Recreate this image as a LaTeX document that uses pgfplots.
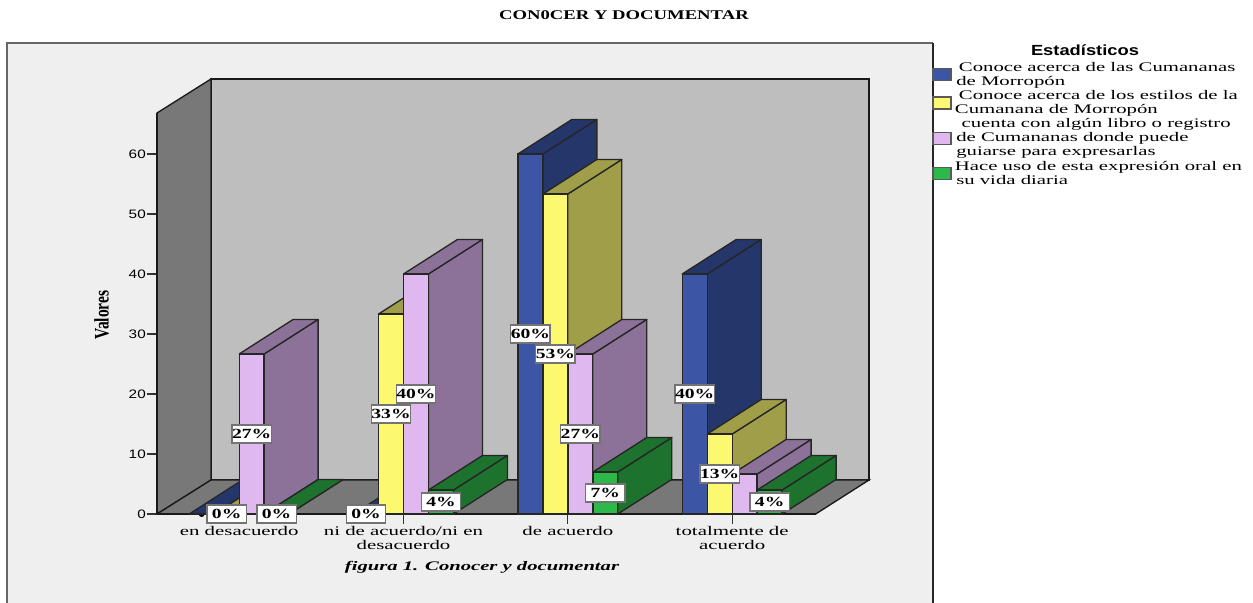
\documentclass[border=0pt]{standalone}
\usepackage{fontspec}
\usepackage{pgfplots}
\usepackage{pgfplotstable}
\pgfplotsset{compat=1.18}

\newfontfamily\serifwide[FakeStretch=1.4]{Liberation Serif}
\newfontfamily\serifwider[FakeStretch=1.58]{Liberation Serif}
\newfontfamily\sanswide[FakeStretch=1.25]{Liberation Sans}
\newfontfamily\yfont[FakeStretch=0.75]{Liberation Serif}

% x: category position, v: value in percent
\pgfplotstableread{
x v
-0.228 0
0.772 0
1.772 60
2.772 40
}\serieblue
\pgfplotstableread{
x v
-0.076 0
0.924 33.33
1.924 53.33
2.924 13.33
}\serieyellow
\pgfplotstableread{
x v
0.076 26.67
1.076 40
2.076 26.67
3.076 6.67
}\seriepink
\pgfplotstableread{
x v
0.228 0
1.228 4
2.228 7
3.228 4
}\seriegreen
% only the bars that carry a label in the picture
\pgfplotstableread{
x v
-0.076 0
0.228 0
0.076 26.67
0.772 0
0.924 33.33
1.076 40
1.228 4
1.772 60
1.924 53.33
2.076 26.67
2.228 7
2.772 40
2.924 13.33
3.228 4
}\labelled

\definecolor{cblue}{HTML}{3C55A5}\definecolor{cblueS}{HTML}{25366B}
\definecolor{cyel}{HTML}{FCF86F}\definecolor{cyelS}{HTML}{A09E48}
\definecolor{cpink}{HTML}{E0B8F0}\definecolor{cpinkS}{HTML}{8C7298}
\definecolor{cgreen}{HTML}{2DB84A}\definecolor{cgreenS}{HTML}{1D722D}
\definecolor{panel}{HTML}{EFEFEF}
\definecolor{backwall}{HTML}{BEBEBE}
\definecolor{sidewall}{HTML}{787878}

\pgfplotsset{
  bar3d/.style n args={2}{
    forget plot, only marks, scatter,
    visualization depends on={rawy \as \barv},
    scatter/@pre marker code/.code={},
    scatter/@post marker code/.code={
      \pgfmathsetlengthmacro\barh{\barv*4.5pt}
      \draw[black!85,line width=1pt,line join=round,fill=#2]
        (9.35pt,0pt)--(49.85pt,25.9pt)--(49.85pt,25.9pt-\barh)--(9.35pt,-\barh)--cycle;
      \draw[black!85,line width=1pt,line join=round,fill=#2]
        (-9.35pt,0pt)--(31.15pt,25.9pt)--(49.85pt,25.9pt)--(9.35pt,0pt)--cycle;
      \draw[black!85,line width=1pt,fill=#1]
        (-9.35pt,-\barh) rectangle (9.35pt,0pt);
    },
  },
  swatch/.style={legend image code/.code={
    \draw[black!65,line width=.9pt,fill=#1] (0pt,-4.5pt) rectangle (13.5pt,4.5pt);}},
  every axis title shift=0pt,
}

\begin{document}
\begin{tikzpicture}
\begin{scope}[x=.75pt,y=-.75pt,xshift=-117.75pt,yshift=385.5pt]
  \fill[white] (0,0) rectangle (1253,603);
  \fill[panel] (7,43) rectangle (933,603);
  \draw[black!60,line width=.9pt] (7,603)--(7,43)--(933,43);
  \draw[black!85,line width=.9pt] (933,43)--(933,603);
  \draw[black!90,line width=1pt,fill=backwall] (211,79) rectangle (869,480);
  \draw[black!90,line width=1pt,fill=sidewall] (157,514)--(211,480)--(211,79)--(157,113)--cycle;
  \draw[black!90,line width=1pt,fill=sidewall] (157,514)--(815.7,514)--(869,480)--(211,480)--cycle;
\end{scope}
\begin{axis}[
  at={(0,0)}, anchor=south west,
  scale only axis,
  width=494.25pt, height=300.75pt,
  xmin=-0.5, xmax=3.51, ymin=0, ymax=66.83,
  axis x line=bottom, axis y line=left,
  axis line style={-,black!90,line width=1pt},
  clip=false,
  xtick={0,1,2,3},
  xticklabels={en desacuerdo,{ni de acuerdo/ni en\\desacuerdo},de acuerdo,{totalmente de\\acuerdo}},
  ytick={0,10,20,30,40,50,60},
  tick align=outside,
  major tick length=7.2pt,
  tick style={black!80,line width=.8pt},
  /pgf/number format/assume math mode=true,
  yticklabel style={font=\sanswide\fontsize{9.2}{10}\selectfont,inner sep=1pt},
  xticklabel style={font=\serifwider\fontsize{9.9}{10.5}\selectfont,align=center,inner sep=0pt,yshift=-1.7pt},
  title={CON0CER Y DOCUMENTAR},
  title style={font=\serifwide\bfseries\fontsize{10}{10}\selectfont,at={(axis description cs:0.7086,1.2444)},anchor=center},
  xlabel={figura 1. Conocer y documentar},
  xlabel style={font=\serifwider\bfseries\itshape\fontsize{9.8}{10}\selectfont,at={(axis description cs:0.4932,-0.134)},anchor=center},
  ylabel={Valores},
  ylabel style={font=\yfont\bfseries\fontsize{15.5}{15.5}\selectfont,at={(axis description cs:-0.084,0.496)},anchor=center},
  legend style={at={(axis description cs:1.1762,1.1347)},anchor=north west,draw=none,fill=none,
    inner sep=0pt,row sep=-1.5pt,
    font=\serifwider\fontsize{9.85}{10.5}\selectfont,
    cells={align=left,inner sep=0pt},
    /tikz/column 2/.style={column sep=3pt}},
  legend cell align=left,
]
\addlegendimage{swatch=cblue}
\addlegendentry{\hspace{3.5pt}Conoce acerca de las Cumananas\\\hspace{1.5pt}de Morropón}
\addlegendimage{swatch=cyel}
\addlegendentry{\hspace{3.5pt}Conoce acerca de los estilos de la\\\hspace{.5pt}Cumanana de Morropón}
\addlegendimage{swatch=cpink}
\addlegendentry{\hspace{5.5pt}cuenta con algún libro o registro\\\hspace{1.5pt}de Cumananas donde puede\\\hspace{1.5pt}guiarse para expresarlas}
\addlegendimage{swatch=cgreen}
\addlegendentry{\hspace{.5pt}Hace uso de esta expresión oral en\\\hspace{1.5pt}su vida diaria}

\addplot[bar3d={cblue}{cblueS}] table[x=x,y=v] {\serieblue};
\addplot[bar3d={cyel}{cyelS}] table[x=x,y=v] {\serieyellow};
\addplot[bar3d={cpink}{cpinkS}] table[x=x,y=v] {\seriepink};
\addplot[bar3d={cgreen}{cgreenS}] table[x=x,y=v] {\seriegreen};

\addplot[forget plot,draw=none,mark=none,
  point meta=explicit,
  nodes near coords={\pgfmathprintnumber[fixed,precision=0]{\pgfplotspointmeta}\%},
  nodes near coords align={center},
  every node near coord/.style={anchor=center,fill=white,draw=black!55,line width=1.1pt,
    inner sep=0pt,minimum width=29.5pt,minimum height=13.5pt,text=black,
    font=\serifwide\bfseries\fontsize{10.5}{10.5}\selectfont},
] table[x=x,y expr=\thisrow{v}/2,meta=v] {\labelled};
\end{axis}
\begin{scope}[x=.75pt,y=-.75pt,xshift=-117.75pt,yshift=385.5pt]
  \node[font=\sanswide\bfseries\fontsize{11}{11}\selectfont,inner sep=0pt] at (1085,50) {Estadísticos};
\end{scope}
\pgfresetboundingbox
\path[use as bounding box] (-117.75pt,-66.75pt) rectangle (822pt,385.5pt);
\end{tikzpicture}
\end{document}
